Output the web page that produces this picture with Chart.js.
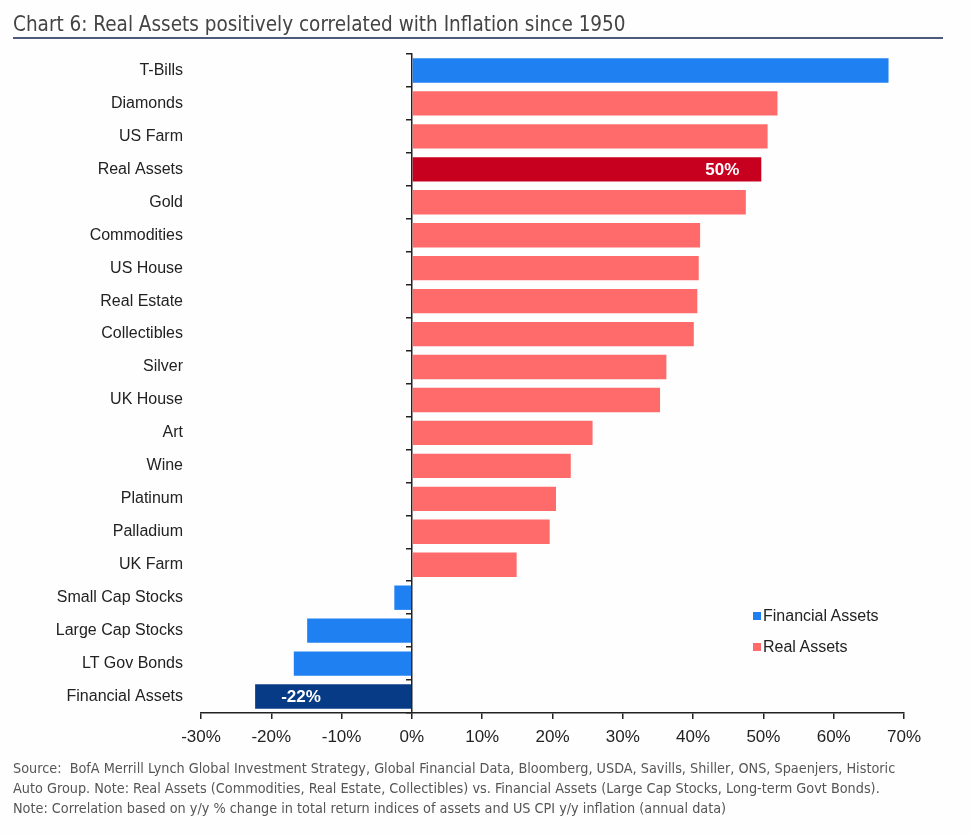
<!DOCTYPE html>
<html>
<head>
<meta charset="utf-8">
<script src="https://cdn.jsdelivr.net/npm/chart.js@4.4.1/dist/chart.umd.min.js"></script>
<style>
    body { margin: 0; background: #fff; }
    #wrap { position: relative; width: 973px; height: 834px; background: #fefefe; }
    #titre {
        position: absolute; left: 13px; top: 11px; width: 930px;
        font-family: "Liberation Sans Narrow", "DejaVu Sans Condensed", sans-serif;
        font-size: 20.5px; color: #444; line-height: 26px;
        border-bottom: 2px solid #4b5b78; padding-bottom: 0px;
    }
    #source {
        position: absolute; left: 13px; top: 758px; width: 950px;
        font-family: "Liberation Sans Narrow", "DejaVu Sans Condensed", sans-serif;
        font-size: 14.3px; color: #555; line-height: 20px;
    }
    #legende {
        position: absolute; left: 753px; top: 604px;
        font-family: "Liberation Sans", Arial, sans-serif; font-size: 16px; color: #222;
    }
    #legende div { height: 31px; line-height: 24px; }
    #legende span.carre { display: inline-block; width: 8px; height: 8px; margin-right: 2px; vertical-align: 1px; }
</style>
</head>
<body>
<div id="wrap">
    <canvas id="barChart"></canvas>
    <div id="titre">Chart 6: Real Assets positively correlated with Inflation since 1950</div>
    <div id="legende"></div>
    <div id="source">
        Source:&nbsp; BofA Merrill Lynch Global Investment Strategy, Global Financial Data, Bloomberg, USDA, Savills, Shiller, ONS, Spaenjers, Historic<br>
        Auto Group. Note: Real Assets (Commodities, Real Estate, Collectibles) vs. Financial Assets (Large Cap Stocks, Long-term Govt Bonds).<br>
        Note: Correlation based on y/y % change in total return indices of assets and US CPI y/y inflation (annual data)
    </div>
</div>
<script>
// categories (top to bottom)
var aCategories = ["T-Bills", "Diamonds", "US Farm", "Real Assets", "Gold", "Commodities", "US House",
    "Real Estate", "Collectibles", "Silver", "UK House", "Art", "Wine", "Platinum", "Palladium",
    "UK Farm", "Small Cap Stocks", "Large Cap Stocks", "LT Gov Bonds", "Financial Assets"];
// correlation with inflation, %
var aCorrelations = [67.8, 52.0, 50.6, 49.7, 47.5, 41.0, 40.8, 40.6, 40.1, 36.2, 35.3,
    25.7, 22.6, 20.5, 19.6, 14.9, -2.5, -14.9, -16.8, -22.3];
// F = financial asset, R = real asset
var aGroupes = ["F", "R", "R", "R", "R", "R", "R", "R", "R", "R", "R",
    "R", "R", "R", "R", "R", "F", "F", "F", "F"];
// bars that carry a value label (the two aggregates)
var aAgregats = ["Real Assets", "Financial Assets"];
var aTicksX = [-30, -20, -10, 0, 10, 20, 30, 40, 50, 60, 70];

var COULEUR_FINANCIER = '#1f80f2';
var COULEUR_REEL = '#ff6b6b';
var COULEUR_AGREGAT_REEL = '#c8001f';
var COULEUR_AGREGAT_FINANCIER = '#073b86';

function serie(sGroupe, sCouleurAgregat, sCouleur) {
    var data = [], couleurs = [];
    for (var i = 0; i < aCategories.length; i++) {
        data.push(aGroupes[i] === sGroupe ? aCorrelations[i] : null);
        couleurs.push(aAgregats.indexOf(aCategories[i]) >= 0 ? sCouleurAgregat : sCouleur);
    }
    return {data: data, couleurs: couleurs};
}
var oFinancier = serie("F", COULEUR_AGREGAT_FINANCIER, COULEUR_FINANCIER);
var oReel = serie("R", COULEUR_AGREGAT_REEL, COULEUR_REEL);

// white value labels inside the aggregate bars
var etiquettesPlugin = {
    id: 'etiquettes',
    afterDatasetsDraw: function (chart) {
        var ctx = chart.ctx;
        ctx.save();
        ctx.font = 'bold 17px "Liberation Sans", Arial, sans-serif';
        ctx.fillStyle = '#fff';
        ctx.textBaseline = 'middle';
        chart.data.datasets.forEach(function (ds, iDs) {
            var meta = chart.getDatasetMeta(iDs);
            meta.data.forEach(function (bar, i) {
                var v = ds.data[i];
                if (v === null || aAgregats.indexOf(aCategories[i]) < 0) return;
                var sTexte = Math.round(v) + '%';
                if (v >= 0) {
                    ctx.textAlign = 'right';
                    ctx.fillText(sTexte, bar.x - 22, bar.y + 1);
                } else {
                    ctx.textAlign = 'left';
                    ctx.fillText(sTexte, bar.x + 26, bar.y + 1);
                }
            });
        });
        ctx.restore();
    }
};

var oBarChart = new Chart(document.getElementById('barChart'), {
    type: 'bar',
    data: {
        labels: aCategories,
        datasets: [{
            label: 'Financial Assets',
            data: oFinancier.data,
            backgroundColor: oFinancier.couleurs,
            legendColor: COULEUR_FINANCIER
        }, {
            label: 'Real Assets',
            data: oReel.data,
            backgroundColor: oReel.couleurs,
            legendColor: COULEUR_REEL
        }]
    },
    options: {
        indexAxis: 'y',
        responsive: true,
        maintainAspectRatio: false,
        animation: false,
        grouped: false,
        skipNull: true,
        barPercentage: 0.74,
        categoryPercentage: 1,
        layout: {padding: {top: 54, right: 69, bottom: 81, left: 0}},
        plugins: {legend: {display: false}, tooltip: {enabled: false}},
        scales: {
            x: {
                min: -30, max: 70,
                afterBuildTicks: function (scale) {
                    scale.ticks = aTicksX.map(function (v) { return {value: v}; });
                },
                afterFit: function (scale) { scale.height = 40; },
                grid: {drawOnChartArea: false, drawTicks: true, tickLength: 6, color: '#222', lineWidth: 1.5},
                border: {color: '#222', width: 1.5},
                ticks: {
                    padding: 8,
                    color: '#222',
                    font: {family: '"Liberation Sans", Arial, sans-serif', size: 17},
                    callback: function (v) { return v + '%'; }
                }
            },
            y: {
                afterFit: function (scale) { scale.width = 201; },
                grid: {display: false, drawTicks: false},
                border: {display: false},
                ticks: {
                    padding: 18,
                    color: '#222',
                    font: {family: '"Liberation Sans", Arial, sans-serif', size: 16}
                }
            },
            // vertical zero line with its small tick marks
            y2: {
                type: 'category',
                position: {x: 0},
                offset: true,
                grid: {drawOnChartArea: false, offset: true, drawTicks: true, tickLength: 5, color: '#222', lineWidth: 1.5},
                border: {color: '#222', width: 1.5},
                ticks: {display: false}
            }
        }
    },
    plugins: [etiquettesPlugin]
});

// legend inside the plot, bottom right
var eLegende = document.getElementById('legende');
oBarChart.data.datasets.forEach(function (ds) {
    var ligne = document.createElement('div');
    ligne.innerHTML = '<span class="carre" style="background:' + ds.legendColor + '"></span>' + ds.label;
    eLegende.appendChild(ligne);
});
</script>
</body>
</html>
